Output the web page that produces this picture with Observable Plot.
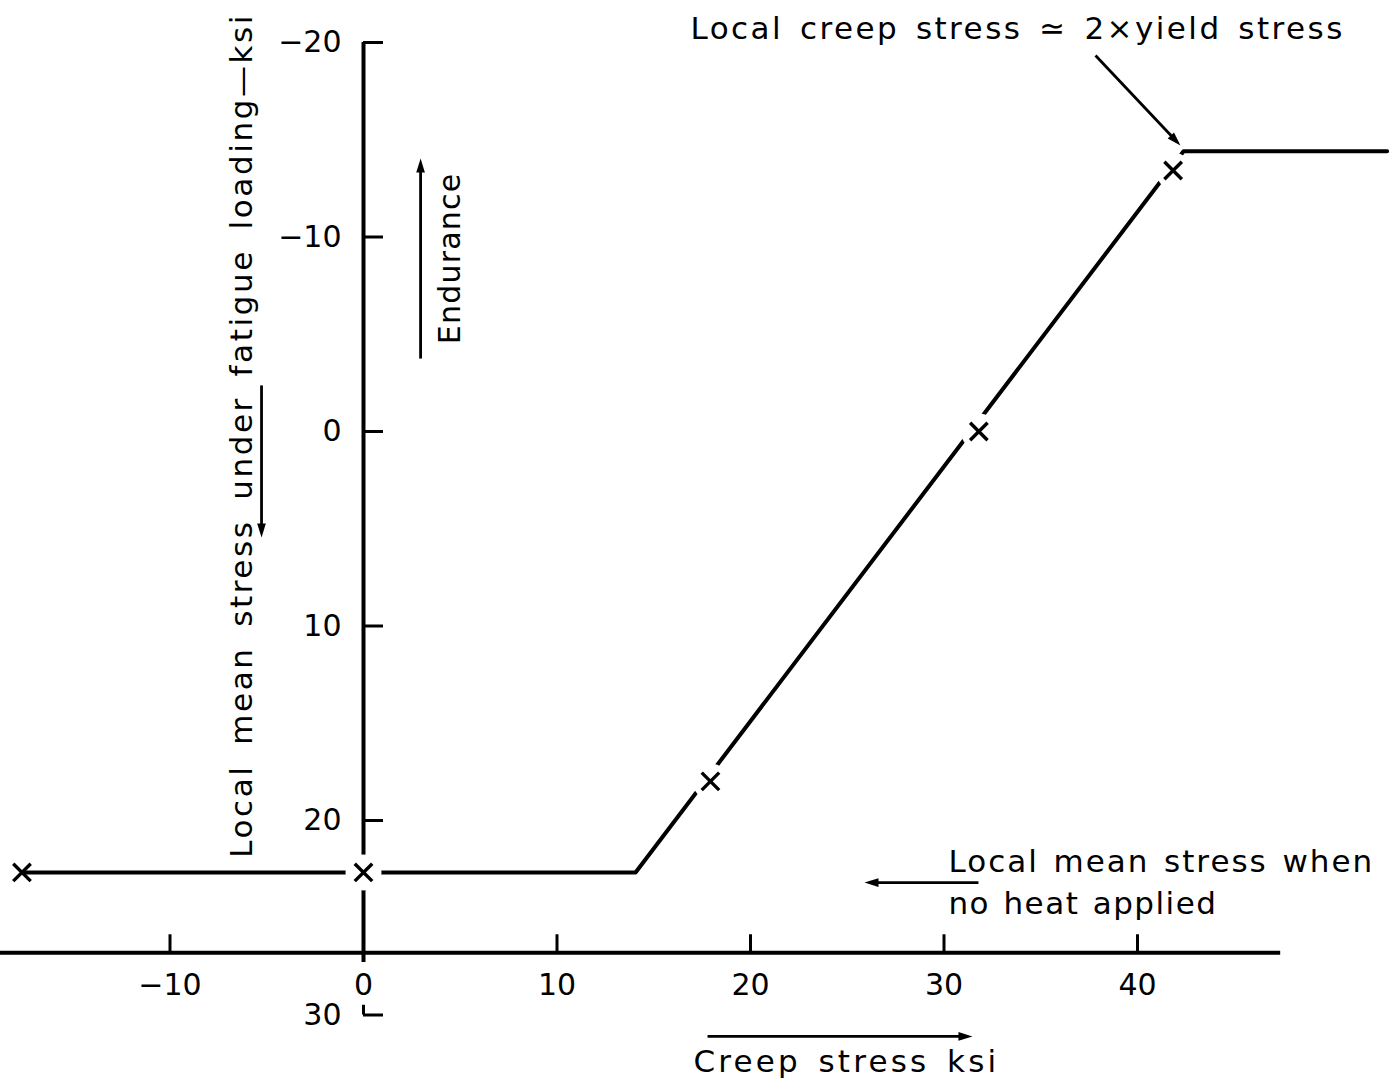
<!DOCTYPE html>
<html><head><meta charset="utf-8">
<script src="https://cdn.jsdelivr.net/npm/d3@7"></script>
<script src="https://cdn.jsdelivr.net/npm/@observablehq/plot@0.6"></script>
<style>
html,body{margin:0;padding:0;background:#fff;}
svg text{font-family:"DejaVu Sans",sans-serif;}
</style>
</head><body>
<div id="chart"></div>
<script>
// ---- data ----
const xTicks = [-10, 0, 10, 20, 30, 40];
const xTickLabels = ["−10", "0", "10", "20", "30", "40"];
const yTicks = [-20, -10, 0, 10, 20, 30];
const yTickLabels = ["−20", "−10", "0", "10", "20", "30"];

// creep-stress line (x: creep stress ksi, y: local mean stress ksi)
const curveX = [-17.65, 14.06, 42.38, 52.9];
const curveY = [22.67, 22.67, -14.41, -14.41];

// measured points (×)
const pointX = [-17.65, 0, 17.93, 31.8, 41.84];
const pointY = [22.67, 22.67, 17.99, 0.0, -13.42];
const pointGap = [false, true, true, true, true];

// axis placement in data units
const xAxisAt = 26.8;           // y value where the horizontal axis is drawn
const xAxisFrom = -18.76, xAxisTo = 47.4;
const yAxisFrom = -20, yAxisTo = 27.3;
const yAxisStubFrom = 29.5, yAxisStubTo = 30;

// annotations
const annotText = ["Local creep stress \u2243 2\u00d7yield stress", "Local mean stress when", "no heat applied", "Creep stress ksi"];
const annotX = [16.9, 30.23, 30.23, 17.05];
const annotY = [-20.67, 22.16, 24.32, 32.44];
const yLabel = "Local mean stress under fatigue loading\u2014ksi";
const yLabelX = -6.3, yLabelY = 0.2;
const enduranceLabel = "Endurance";
const enduranceX = 4.5, enduranceY = -8.9;

const arrowX1 = [2.95, -5.27, 31.78, 17.78, 37.83];
const arrowY1 = [-3.75, -2.37, 23.19, 31.1, -19.33];
const arrowX2 = [2.95, -5.27, 25.89, 31.47, 42.22];
const arrowY2 = [-14.04, 5.45, 23.19, 31.1, -14.7];

// text tracking (letter-spacing, word-spacing in px)
const tracking = new Map([
  [annotText[0], [2.45, 4.5]],
  [annotText[1], [2.0, 2.8]],
  [annotText[2], [1.5, 2.0]],
  [annotText[3], [3.2, 4.5]],
  [yLabel, [2.6, 7.2]],
  [enduranceLabel, [1.2, 0]]
]);

// ---- scales ----
const W = 1400, H = 1085;
const xDomain = [-363 / 19.35, (W - 363) / 19.35];
const yDomain = [-431 / 19.45, (H - 431) / 19.45];
const pxPerX = W / (xDomain[1] - xDomain[0]);
const pxPerY = H / (yDomain[1] - yDomain[0]);

const curve = curveX.map((x, i) => ({x, y: curveY[i]}));
const points = pointX.map((x, i) => ({x, y: pointY[i], gap: pointGap[i]}));
const arrows = arrowX1.map((x1, i) => {
  const dxp = (arrowX2[i] - x1) * pxPerX, dyp = (arrowY2[i] - arrowY1[i]) * pxPerY;
  const len = Math.hypot(dxp, dyp), cut = 10 / len;
  return {
    x1, y1: arrowY1[i], x2: arrowX2[i], y2: arrowY2[i],
    sx: arrowX2[i] - (arrowX2[i] - x1) * cut,
    sy: arrowY2[i] - (arrowY2[i] - arrowY1[i]) * cut,
    angle: Math.atan2(dxp, -dyp) * 180 / Math.PI
  };
});
const headSymbol = {
  draw(ctx, size) {
    const k = Math.sqrt(size / Math.PI);
    ctx.moveTo(0, 0);
    ctx.lineTo(-0.62 * k, 2.0 * k);
    ctx.lineTo(0.62 * k, 2.0 * k);
    ctx.closePath();
  }
};
const font = "DejaVu Sans, sans-serif";

const plot = Plot.plot({
  width: W, height: H,
  margin: 0,
  style: {background: "#fff", color: "#000"},
  x: {domain: xDomain, range: [0, W], axis: null},
  y: {domain: yDomain, range: [0, H], axis: null},
  marks: [
    // axes
    Plot.ruleX([0], {y1: yAxisFrom, y2: yAxisTo, stroke: "#000", strokeWidth: 4}),
    Plot.ruleX([0], {y1: yAxisStubFrom, y2: yAxisStubTo, stroke: "#000", strokeWidth: 3}),
    Plot.ruleY([xAxisAt], {x1: xAxisFrom, x2: xAxisTo, stroke: "#000", strokeWidth: 4}),
    Plot.ruleX(xTicks, {x: d => d, y1: xAxisAt, y2: xAxisAt - 18 / pxPerY, stroke: "#000", strokeWidth: 3}),
    Plot.ruleY(yTicks, {y: d => d, x1: 0, x2: 20 / pxPerX, stroke: "#000", strokeWidth: 3}),
    Plot.text(xTicks, {x: d => d, y: xAxisAt, dy: 33, text: (d, i) => xTickLabels[i], fontSize: 30, fontFamily: font, fill: "#000", textAnchor: "middle"}),
    Plot.text(yTicks, {x: 0, y: d => d, dx: -22, text: (d, i) => yTickLabels[i], fontSize: 30, fontFamily: font, fill: "#000", textAnchor: "end"}),
    // data line
    Plot.line(curve, {x: "x", y: "y", stroke: "#000", strokeWidth: 4, strokeLinejoin: "round", strokeLinecap: "round"}),
    Plot.dot(points.filter(d => d.gap), {x: "x", y: "y", r: 18, fill: "#fff", stroke: "none"}),
    Plot.dot(points, {x: "x", y: "y", symbol: "times", r: 8, stroke: "#000", strokeWidth: 3.4}),
    // annotations
    Plot.text(annotText, {x: (d, i) => annotX[i], y: (d, i) => annotY[i], text: d => d, fontSize: 31, fontFamily: font, fill: "#000", textAnchor: "start"}),
    Plot.text([yLabel], {x: yLabelX, y: yLabelY, text: d => d, rotate: -90, fontSize: 31, fontFamily: font, fill: "#000", textAnchor: "middle"}),
    Plot.text([enduranceLabel], {x: enduranceX, y: enduranceY, text: d => d, rotate: -90, fontSize: 30, fontFamily: font, fill: "#000", textAnchor: "middle"}),
    Plot.link(arrows, {x1: "x1", y1: "y1", x2: "sx", y2: "sy", stroke: "#000", strokeWidth: 2.8}),
    Plot.dot(arrows, {x: "x2", y: "y2", symbol: headSymbol, r: 7, fill: "#000", stroke: "none", rotate: "angle"})
  ]
});
d3.select(plot).selectAll("text").each(function() {
  const t = tracking.get(this.textContent);
  if (t) {
    this.style.letterSpacing = t[0] + "px";
    this.style.wordSpacing = t[1] + "px";
  }
});
document.getElementById("chart").appendChild(plot);
</script>
</body></html>
